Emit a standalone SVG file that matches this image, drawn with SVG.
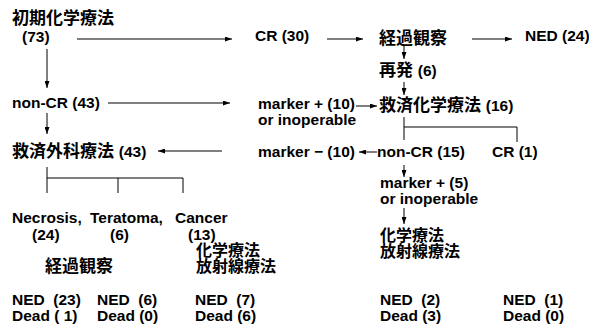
<svg xmlns="http://www.w3.org/2000/svg" width="589" height="327" viewBox="0 0 589 327">
<style>
text { font-family: "Liberation Sans", "Noto Sans CJK JP", sans-serif; font-weight: bold; font-size: 15.5px; fill: #000; }
.j { font-size: 17px; }
.s { font-size: 16px; }
.c { stroke: #000; stroke-width: 1; fill: none; }
.a { marker-end: url(#ah); }
</style>
<defs>
<marker id="ah" markerWidth="7" markerHeight="5" refX="7" refY="2.5" orient="auto" markerUnits="userSpaceOnUse"><path d="M0,0 L7,2.5 L0,5 z" fill="#000"/></marker>
</defs>
<rect width="589" height="327" fill="#fff"/>
<g id="connectors">
<line class="c a" x1="77" y1="39" x2="232" y2="39"/>
<line class="c a" x1="327" y1="39" x2="363" y2="39"/>
<line class="c a" x1="472" y1="39" x2="512" y2="39"/>
<line class="c a" x1="404" y1="46" x2="404" y2="59"/>
<line class="c a" x1="404" y1="82" x2="404" y2="95"/>
<line class="c a" x1="47" y1="49" x2="47" y2="88"/>
<line class="c a" x1="108" y1="103" x2="230" y2="103"/>
<line class="c a" x1="356" y1="106" x2="377" y2="106"/>
<line class="c a" x1="47" y1="113" x2="47" y2="134"/>
<line class="c a" x1="222" y1="151" x2="158" y2="151"/>
<line class="c a" x1="377" y1="152" x2="359" y2="152"/>
<line class="c a" x1="404" y1="165" x2="404" y2="177"/>
<line class="c a" x1="404" y1="208" x2="404" y2="224"/>
<path class="c" d="M404,117 V140 M404,127 H517 V142"/>
<path class="c" d="M47,167 V193 M47,178 H183 V193 M118,178 V193"/>
</g>
<g id="n-initial"><text class="j" x="12" y="24">初期化学療法</text><text x="22" y="42">(73)</text></g>
<g id="n-cr30"><text x="255" y="41">CR (30)</text></g>
<g id="n-obs1"><text class="j" x="379" y="44">経過観察</text></g>
<g id="n-ned24"><text x="525" y="41">NED (24)</text></g>
<g id="n-relapse"><text class="j" x="379" y="76">再発 <tspan font-size="15.5">(6)</tspan></text></g>
<g id="n-salvchemo"><text class="j" x="379" y="111">救済化学療法 <tspan font-size="15.5">(16)</tspan></text></g>
<g id="n-noncr43"><text x="12" y="108">non-CR (43)</text></g>
<g id="n-markerplus10"><text x="258" y="109">marker + (10)</text><text x="258" y="125">or inoperable</text></g>
<g id="n-salvsurg"><text class="j" x="12" y="157">救済外科療法 <tspan font-size="15.5">(43)</tspan></text></g>
<g id="n-markerminus10"><text x="258" y="157">marker − (10)</text></g>
<g id="n-noncr15"><text x="377" y="157">non-CR (15)</text></g>
<g id="n-cr1"><text x="492" y="157">CR (1)</text></g>
<g id="n-markerplus5"><text x="380" y="188">marker + (5)</text><text x="380" y="204">or inoperable</text></g>
<g id="n-chemorad-right"><text class="s" x="380" y="241">化学療法</text><text class="s" x="380" y="257">放射線療法</text></g>
<g id="n-necrosis"><text x="12" y="223">Necrosis,</text><text x="32" y="240">(24)</text></g>
<g id="n-teratoma"><text x="90" y="223">Teratoma,</text><text x="110" y="240">(6)</text></g>
<g id="n-cancer"><text x="175" y="223">Cancer</text><text x="188" y="240">(13)</text></g>
<g id="n-obs2"><text class="j" x="45" y="272">経過観察</text></g>
<g id="n-chemorad-mid"><text class="s" x="196" y="256">化学療法</text><text class="s" x="196" y="272">放射線療法</text></g>
<g id="n-out1"><text x="12" y="305" xml:space="preserve">NED  (23)</text><text x="12" y="321">Dead ( 1)</text></g>
<g id="n-out2"><text x="97" y="305" xml:space="preserve">NED  (6)</text><text x="97" y="321">Dead (0)</text></g>
<g id="n-out3"><text x="195" y="305" xml:space="preserve">NED  (7)</text><text x="195" y="321">Dead (6)</text></g>
<g id="n-out4"><text x="380" y="305" xml:space="preserve">NED  (2)</text><text x="380" y="321">Dead (3)</text></g>
<g id="n-out5"><text x="503" y="305" xml:space="preserve">NED  (1)</text><text x="503" y="321">Dead (0)</text></g>
</svg>
